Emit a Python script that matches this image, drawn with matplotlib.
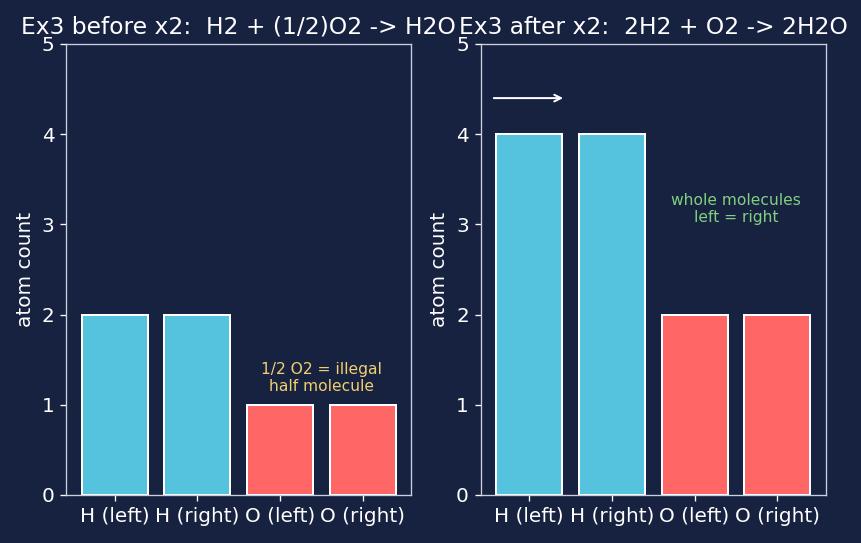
import numpy as np
import matplotlib.pyplot as plt

# atom counts
labels = ["H (left)", "H (right)", "O (left)", "O (right)"]
before = [2, 2, 1, 1]
after = [4, 4, 2, 2]
colors = ["#56c3de", "#56c3de", "#ff6666", "#ff6666"]

bg = "#172140"
fg = "white"

fig, axes = plt.subplots(1, 2, figsize=(8.62 / 1.2, 5.43 / 1.2), dpi=120)
fig.patch.set_facecolor(bg)
fig.subplots_adjust(left=0.0766, right=0.9582, top=0.919, bottom=0.0884, wspace=0.2)

titles = ["Ex3 before x2:  H2 + (1/2)O2 -> H2O", "Ex3 after x2:  2H2 + O2 -> 2H2O"]
for ax, vals, t in zip(axes, [before, after], titles):
    ax.set_facecolor(bg)
    x = np.arange(len(labels))
    ax.bar(x, vals, color=colors, edgecolor="white", linewidth=1.2)
    ax.set_xticks(x)
    ax.set_xticklabels(labels)
    ax.set_ylim(0, 5)
    ax.set_ylabel("atom count", color=fg, fontsize=12)
    ax.set_title(t, color=fg, fontsize=14)
    ax.tick_params(colors=fg, labelsize=12)
    for s in ax.spines.values():
        s.set_color("#c8d0e0")

axes[0].text(2.5, 1.3, "1/2 O2 = illegal\nhalf molecule", color="#f0d070",
             ha="center", va="center", fontsize=9.3)
axes[1].text(2.5, 3.17, "whole molecules\nleft = right", color="#80d080",
             ha="center", va="center", fontsize=9.3)
axes[1].annotate("", xy=(0.45, 4.4), xytext=(-0.47, 4.4),
                 arrowprops=dict(arrowstyle="->", color="white", lw=1.2))

plt.savefig("out.png", facecolor=bg)
